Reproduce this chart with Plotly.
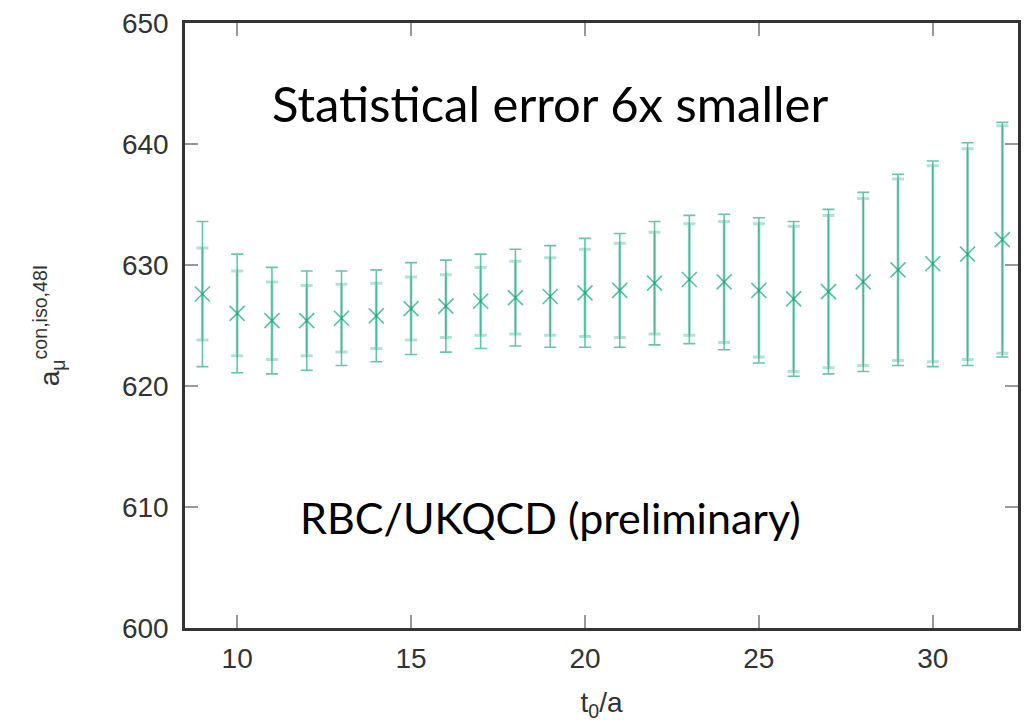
import plotly.graph_objects as go

t0 = [9, 10, 11, 12, 13, 14, 15, 16, 17, 18, 19, 20, 21, 22, 23, 24, 25, 26, 27, 28, 29, 30, 31, 32]
a_mu = [627.6, 626.0, 625.4, 625.4, 625.6, 625.8, 626.4, 626.6, 627.0, 627.3, 627.4, 627.7,
        627.9, 628.5, 628.8, 628.6, 627.9, 627.2, 627.8, 628.6, 629.6, 630.1, 630.9, 632.1]
err_total = [6.0, 4.9, 4.4, 4.1, 3.9, 3.8, 3.8, 3.8, 3.9, 4.0, 4.2, 4.5,
             4.7, 5.1, 5.3, 5.6, 6.0, 6.4, 6.8, 7.4, 7.9, 8.5, 9.2, 9.7]
err_inner = [3.8, 3.5, 3.2, 2.9, 2.8, 2.7, 2.6, 2.6, 2.8, 3.0, 3.2, 3.6,
             3.9, 4.2, 4.6, 5.0, 5.5, 6.0, 6.3, 6.9, 7.5, 8.1, 8.7, 9.4]

y_ticks = [600, 610, 620, 630, 640, 650]
x_ticks = [10, 15, 20, 25, 30]

green = "rgba(0,158,115,{})"

fig = go.Figure()
fig.add_trace(go.Scatter(
    x=t0, y=a_mu, mode="markers",
    marker=dict(symbol="x-thin", size=13, color=green.format(0.0),
                line=dict(color=green.format(0.0), width=0)),
    error_y=dict(type="data", array=err_inner, visible=True, color=green.format(0.3),
                 thickness=3, width=6),
    showlegend=False, hoverinfo="skip"))
fig.add_trace(go.Scatter(
    x=t0, y=a_mu, mode="markers",
    marker=dict(symbol="x-thin", size=15, color=green.format(0.65),
                line=dict(color=green.format(0.65), width=1.6)),
    error_y=dict(type="data", array=err_total, visible=True, color=green.format(0.6),
                 thickness=1.6, width=6),
    showlegend=False))

fig.add_annotation(x=19, y=643.4, text="Statistical error 6x smaller", showarrow=False,
                   xref="x", yref="y", font=dict(family="Lato", size=49, color="#000"))
fig.add_annotation(x=19, y=609.1, text="RBC/UKQCD (preliminary)", showarrow=False,
                   xref="x", yref="y", font=dict(family="Lato", size=43, color="#000"))

axis_common = dict(showline=True, linecolor="#333", linewidth=2.5, mirror="ticks",
                   ticks="inside", ticklen=13, tickwidth=1.5, tickcolor="#999",
                   showgrid=False, zeroline=False, automargin=False,
                   tickfont=dict(family="Liberation Sans", size=28, color="#333"))

fig.update_xaxes(range=[8.5, 32.45], tickvals=x_ticks, ticktext=[str(v) for v in x_ticks],
                 title=dict(text="t<sub>0</sub>/a", font=dict(family="Liberation Sans", size=28, color="#333"),
                            standoff=20),
                 ticklabelstandoff=4,
                 **axis_common)
fig.update_yaxes(range=[600, 650], tickvals=y_ticks, ticktext=[str(v) for v in y_ticks],
                 title=dict(text="a<sub>μ</sub><sup>con,iso,48I</sup>",
                            font=dict(family="Liberation Sans", size=28, color="#333"),
                            standoff=55),
                 ticklabelstandoff=8,
                 **axis_common)

fig.update_layout(width=1036, height=723, margin=dict(l=185, r=18, t=23, b=95),
                  plot_bgcolor="white", paper_bgcolor="white")

fig.write_html("out.html")
